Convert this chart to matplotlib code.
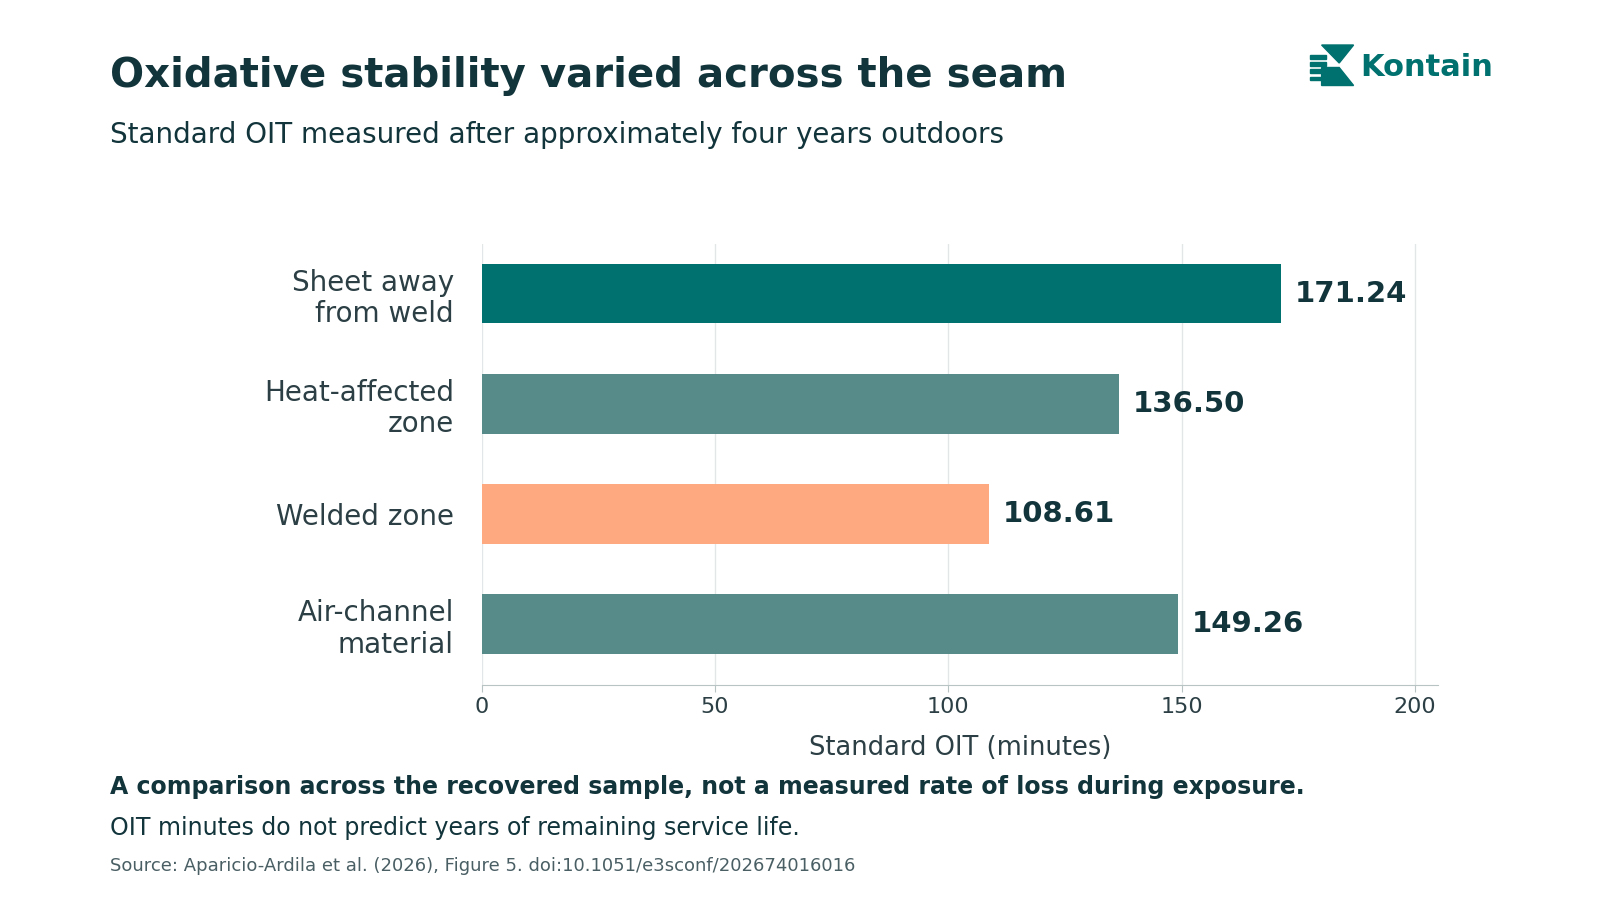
import matplotlib

matplotlib.use("Agg")
import matplotlib.pyplot as plt
from matplotlib.patches import Polygon

categories = ["Sheet away\nfrom weld", "Heat-affected\nzone", "Welded zone", "Air-channel\nmaterial"]
oit_minutes = [171.24, 136.50, 108.61, 149.26]
bar_colors = ["#00716f", "#568b8a", "#ffa981", "#568b8a"]
x_ticks = [0, 50, 100, 150, 200]

DARK = "#12343b"

fig = plt.figure(figsize=(16, 9), dpi=100)
ax = fig.add_axes([0.301, 0.239, 0.598, 0.49])

ypos = list(range(len(categories)))[::-1]
ax.barh(ypos, oit_minutes, color=bar_colors, height=0.54, zorder=3)
for y, v in zip(ypos, oit_minutes):
    ax.text(v + 3, y, f"{v:.2f}", va="center", ha="left", fontsize=21,
            fontweight="bold", color=DARK)

ax.set_yticks(ypos)
ax.set_yticklabels(categories, fontsize=20, color="#2b3f44", linespacing=1.15)
ax.set_xticks(x_ticks)
ax.set_xticklabels([str(t) for t in x_ticks], fontsize=16, color="#2b3f44")
ax.set_xlim(0, 205)
ax.set_ylim(-0.55, 3.45)
ax.set_xlabel("Standard OIT (minutes)", fontsize=18.5, color="#2b3f44", labelpad=13)
ax.grid(axis="x", color="#e3e6e6", linewidth=1, zorder=0)
for s in ["top", "right", "left"]:
    ax.spines[s].set_visible(False)
ax.spines["bottom"].set_color("#b8c4c4")
ax.tick_params(axis="y", length=0, pad=20)
ax.tick_params(axis="x", length=5, color="#b8c4c4")

fig.text(0.069, 0.915, "Oxidative stability varied across the seam", fontsize=29,
         fontweight="bold", color=DARK, va="center")
fig.text(0.069, 0.85, "Standard OIT measured after approximately four years outdoors",
         fontsize=20, color=DARK, va="center")
fig.text(0.069, 0.126, "A comparison across the recovered sample, not a measured rate of loss during exposure.",
         fontsize=17, fontweight="bold", color=DARK, va="center")
fig.text(0.069, 0.08, "OIT minutes do not predict years of remaining service life.",
         fontsize=17, color=DARK, va="center")
fig.text(0.069, 0.038, "Source: Aparicio-Ardila et al. (2026), Figure 5. doi:10.1051/e3sconf/202674016016",
         fontsize=13, color="#4a5f64", va="center")

# logo
LOGO = "#00716f"
fig.patches.append(Polygon([(0.826, 0.950), (0.846, 0.950), (0.837, 0.930)],
                           closed=True, transform=fig.transFigure, color=LOGO))
fig.patches.append(Polygon([(0.826, 0.905), (0.846, 0.905), (0.837, 0.925), (0.826, 0.925)],
                           closed=True, transform=fig.transFigure, color=LOGO))
for yy in [0.935, 0.927, 0.919, 0.911]:
    fig.patches.append(plt.Rectangle((0.819, yy), 0.010, 0.004, transform=fig.transFigure, color=LOGO))
fig.text(0.850, 0.925, "Kontain", fontsize=22, fontweight="bold", color=LOGO, va="center")

fig.savefig("out.png", dpi=100)
